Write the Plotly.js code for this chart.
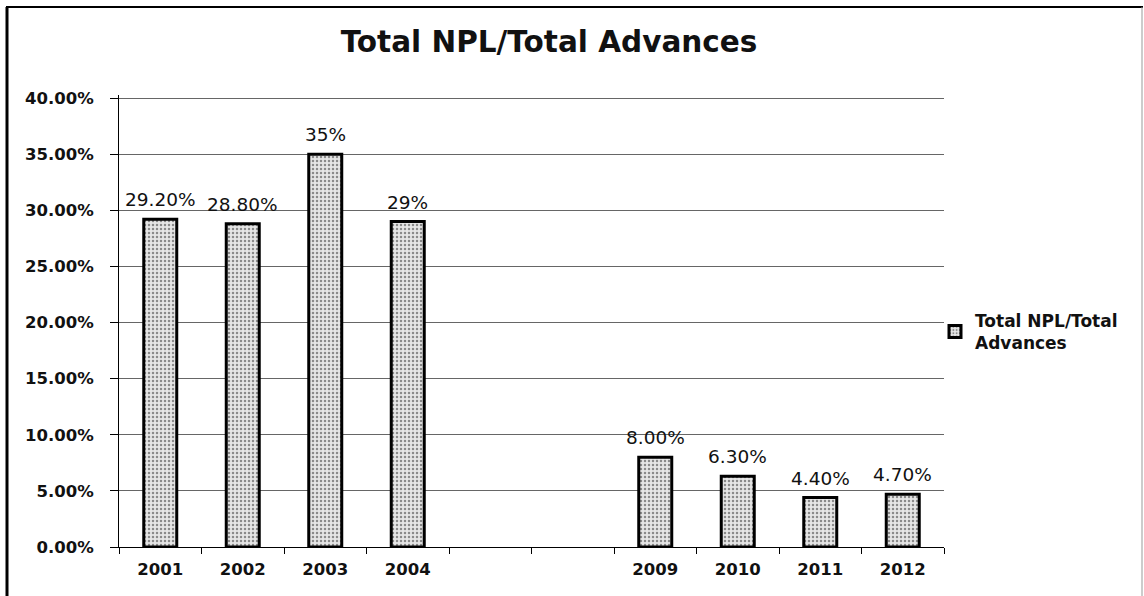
<!DOCTYPE html>
<html>
<head>
<meta charset="utf-8">
<script src="https://cdn.plot.ly/plotly-3.0.1.min.js"></script>
<style>
html,body{margin:0;padding:0;background:#fff;}
#chart{width:1144px;height:596px;}
</style>
</head>
<body>
<div id="chart"></div>
<script>
// Data
var years = ['2001','2002','2003','2004',' ','  ','2009','2010','2011','2012'];
var npl = [29.2, 28.8, 35, 29, null, null, 8.0, 6.3, 4.4, 4.7];
var labels = ['29.20%','28.80%','35%','29%','','','8.00%','6.30%','4.40%','4.70%'];
var seriesName = 'Total NPL/Total<br>Advances';
var chartTitle = 'Total NPL/Total Advances';

var FONT = 'DejaVu Sans';

var trace = {
  type: 'bar',
  x: years,
  y: npl,
  name: seriesName,
  hoverinfo: 'x+y',
  marker: {
    color: '#dcdcdc',
    pattern: {shape: '.', fgcolor: '#8a8a8a', bgcolor: '#e6e6e6', size: 4, solidity: 0.3},
    line: {color: '#000', width: 3}
  },
  showlegend: true
};

// data labels built from the arrays (x given as category index)
var annotations = [];
for (var i = 0; i < years.length; i++) {
  if (npl[i] === null || !labels[i]) continue;
  annotations.push({
    x: i, y: npl[i], xref: 'x', yref: 'y',
    text: labels[i], showarrow: false,
    xanchor: 'center', yanchor: 'bottom', yshift: 7,
    font: {family: FONT, size: 18.5, color: '#111'}
  });
}

// plot area: x 119..944, y 95..547 (40% line at ~98)
var L = 119, R = 944, T = 95, B = 547, W = 1144, H = 596;
var YMAX = 40.27;
function px(p){ return (p - L) / (R - L); }
function py(p){ return (B - p) / (B - T); }

var layout = {
  width: W, height: H,
  margin: {l: L, r: W - R, t: T, b: H - B, pad: 0},
  paper_bgcolor: '#fff',
  plot_bgcolor: '#fff',
  font: {family: FONT, color: '#111'},
  title: {
    text: chartTitle,
    font: {family: FONT, size: 29.5, weight: 'bold', color: '#111'},
    xref: 'container', x: 549 / W, xanchor: 'center',
    yref: 'container', y: 1 - 42 / H, yanchor: 'middle'
  },
  bargap: 0.6,
  xaxis: {
    type: 'category',
    categoryorder: 'array',
    categoryarray: years,
    range: [-0.5, years.length - 0.5],
    autorange: false,
    tickson: 'boundaries',
    ticks: 'outside',
    ticklen: 6,
    tickwidth: 1,
    tickcolor: '#000',
    showline: true,
    linecolor: '#000',
    linewidth: 1,
    showgrid: false,
    zeroline: false,
    ticklabelstandoff: 7,
    tickfont: {family: FONT, size: 16.5, weight: 'bold', color: '#111'}
  },
  yaxis: {
    range: [0, YMAX],
    autorange: false,
    dtick: 5,
    tick0: 0,
    tickformat: '.2f',
    ticksuffix: '%',
    ticks: 'outside',
    ticklen: 8,
    tickwidth: 1,
    tickcolor: '#000',
    showline: true,
    linecolor: '#000',
    linewidth: 1,
    showgrid: true,
    gridcolor: '#666666',
    gridwidth: 1,
    zeroline: false,
    ticklabelstandoff: 13,
    tickfont: {family: FONT, size: 16.5, weight: 'bold', color: '#111'}
  },
  legend: {
    x: px(935), xanchor: 'left',
    y: py(332), yanchor: 'middle',
    bgcolor: 'rgba(0,0,0,0)',
    font: {family: FONT, size: 17, weight: 'bold', color: '#111'},
    itemwidth: 30,
    tracegroupgap: 0
  },
  annotations: annotations,
  shapes: [
    {type: 'line', xref: 'paper', yref: 'paper', x0: px(7), x1: px(7), y0: py(7), y1: py(H + 2), line: {color: '#000', width: 3}},
    {type: 'line', xref: 'paper', yref: 'paper', x0: px(6), x1: px(1143), y0: py(7), y1: py(7), line: {color: '#000', width: 2}},
    {type: 'line', xref: 'paper', yref: 'paper', x0: px(1142), x1: px(1142), y0: py(7), y1: py(H + 2), line: {color: '#999', width: 1}}
  ]
};

Plotly.newPlot('chart', [trace], layout, {displayModeBar: false, staticPlot: true});
</script>
</body>
</html>
